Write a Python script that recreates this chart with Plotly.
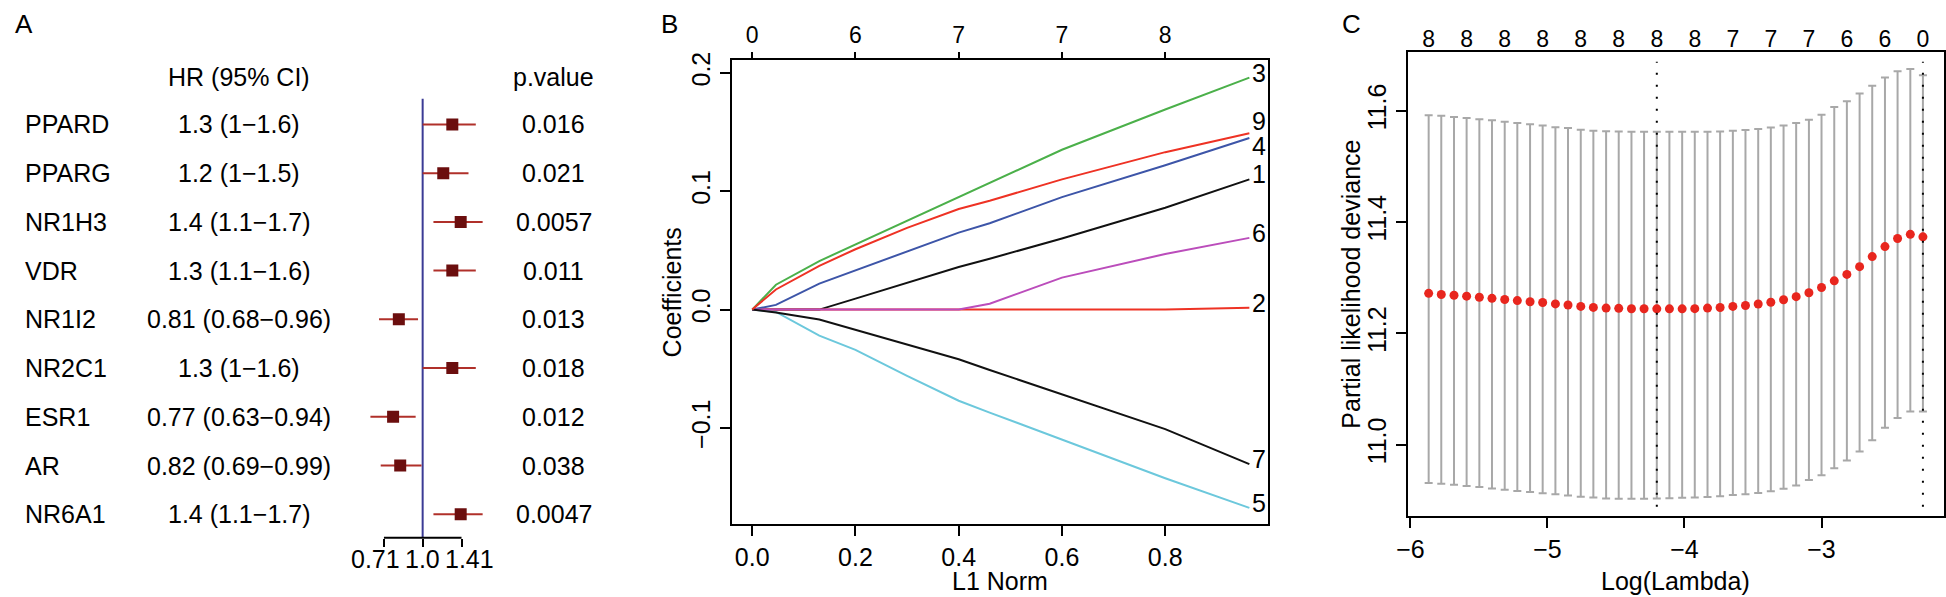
import math
import plotly.graph_objects as go

W, H = 1946, 597
FONT = "Arial, 'Liberation Sans', Helvetica, sans-serif"

# ---- Panel A: forest plot ----
genes = ["PPARD", "PPARG", "NR1H3", "VDR", "NR1I2", "NR2C1", "ESR1", "AR", "NR6A1"]
hr = [1.3, 1.2, 1.4, 1.3, 0.81, 1.3, 0.77, 0.82, 1.4]
hr_low = [1.0, 1.0, 1.1, 1.1, 0.68, 1.0, 0.63, 0.69, 1.1]
hr_high = [1.6, 1.5, 1.7, 1.6, 0.96, 1.6, 0.94, 0.99, 1.7]
p_values = [0.016, 0.021, 0.0057, 0.011, 0.013, 0.018, 0.012, 0.038, 0.0047]
hr_ticks = [0.71, 1.0, 1.41]
hr_tick_text = ["0.71", "1.0", "1.41"]

# ---- Panel B: coefficient paths ----
l1_norm = [0, 0.046, 0.13, 0.2, 0.3, 0.4, 0.46, 0.6, 0.8, 0.963]
coef1 = [0, 0, 0, 0.0093, 0.0227, 0.036, 0.043, 0.060, 0.086, 0.110]
coef2 = [0, 0, 0, 0, 0, 0, 0, 0, 0, 0.0016]
coef3 = [0, 0.021, 0.041, 0.055, 0.075, 0.095, 0.107, 0.135, 0.169, 0.196]
coef4 = [0, 0.004, 0.022, 0.033, 0.049, 0.065, 0.073, 0.095, 0.122, 0.145]
coef5 = [0, -0.002, -0.022, -0.034, -0.056, -0.077, -0.087, -0.110, -0.1425, -0.1675]
coef6 = [0, 0, 0, 0, 0, 0, 0.005, 0.027, 0.047, 0.0606]
coef7 = [0, -0.0025, -0.0083, -0.017, -0.0295, -0.042, -0.051, -0.0717, -0.101, -0.1305]
coef9 = [0, 0.017, 0.037, 0.051, 0.069, 0.085, 0.092, 0.110, 0.133, 0.149]
b_top_ticks = [0, 0.2, 0.4, 0.6, 0.8]
b_top_text = ["0", "6", "7", "7", "8"]

# ---- Panel C: cross-validation curve ----
log_lambda = [-5.867, -5.775, -5.682, -5.590, -5.497, -5.405, -5.312, -5.220, -5.127, -5.035,
              -4.942, -4.850, -4.757, -4.665, -4.572, -4.480, -4.387, -4.295, -4.202, -4.110,
              -4.017, -3.925, -3.832, -3.740, -3.647, -3.555, -3.462, -3.370, -3.277, -3.185,
              -3.092, -3.000, -2.907, -2.815, -2.722, -2.630, -2.537, -2.445, -2.352, -2.260]
cv_mean = [11.272, 11.270, 11.2685, 11.267, 11.265, 11.263, 11.261, 11.259, 11.257, 11.2555,
           11.253, 11.251, 11.2485, 11.2467, 11.2455, 11.245, 11.2443, 11.2443, 11.2442, 11.2442,
           11.2442, 11.2445, 11.2455, 11.2465, 11.2485, 11.2502, 11.2528, 11.256, 11.2605, 11.266,
           11.273, 11.2825, 11.2945, 11.306, 11.320, 11.338, 11.356, 11.3705, 11.378, 11.3735]
cv_upper = [11.592, 11.591, 11.589, 11.587, 11.585, 11.583, 11.5805, 11.578, 11.576, 11.5735,
            11.5705, 11.569, 11.566, 11.564, 11.5635, 11.563, 11.5622, 11.5622, 11.5622, 11.5622,
            11.5622, 11.5622, 11.5625, 11.563, 11.564, 11.5655, 11.5675, 11.570, 11.5735, 11.578,
            11.584, 11.593, 11.607, 11.617, 11.631, 11.645, 11.660, 11.671, 11.675, 11.664]
cv_lower = [10.931, 10.9297, 10.928, 10.9256, 10.924, 10.9214, 10.919, 10.9168, 10.915, 10.9126,
            10.9108, 10.9085, 10.9067, 10.905, 10.9035, 10.903, 10.9027, 10.9027, 10.9035, 10.904,
            10.9045, 10.905, 10.906, 10.9075, 10.9095, 10.911, 10.913, 10.9165, 10.921, 10.9265,
            10.9365, 10.945, 10.9575, 10.9717, 10.988, 11.008, 11.0306, 11.048, 11.0595, 11.0595]
nonzero_counts = ["8", "8", "8", "8", "8", "8", "8", "8", "7", "7", "7", "6", "6", "0"]
idx_min, idx_1se = 18, 39


def px_x(p):
    return p / W


def px_y(p):
    return 1 - p / H


fig = go.Figure()

# Panel A traces
rows = list(range(len(genes)))
fig.add_trace(go.Scatter(
    x=hr, y=rows, mode="markers", xaxis="x", yaxis="y",
    marker=dict(symbol="square", size=12, color="#6B0E0E"),
    error_x=dict(type="data", symmetric=False,
                 array=[u - h for u, h in zip(hr_high, hr)],
                 arrayminus=[h - l for h, l in zip(hr, hr_low)],
                 color="#B0302A", thickness=2, width=0),
    showlegend=False, hoverinfo="skip"))

# Panel B traces (drawn in variable order so later ones sit on top)
paths = [("1", coef1, "#111111"), ("2", coef2, "#EE3224"), ("3", coef3, "#4BB04A"),
         ("4", coef4, "#3D55A8"), ("5", coef5, "#6CC8DC"), ("6", coef6, "#BB4DBB"),
         ("7", coef7, "#111111"), ("9", coef9, "#EE3224")]
for name, vals, col in paths:
    fig.add_trace(go.Scatter(x=l1_norm, y=vals, mode="lines", xaxis="x2", yaxis="y2",
                             line=dict(color=col, width=2), showlegend=False, hoverinfo="skip"))
fig.add_trace(go.Scatter(x=l1_norm, y=coef3, mode="none", xaxis="x3", yaxis="y2",
                         showlegend=False, hoverinfo="skip"))

# Panel C traces
fig.add_trace(go.Scatter(
    x=log_lambda, y=cv_mean, mode="markers", xaxis="x4", yaxis="y4",
    marker=dict(size=9, color="#E8261E"),
    error_y=dict(type="data", symmetric=False,
                 array=[u - m for u, m in zip(cv_upper, cv_mean)],
                 arrayminus=[m - l for m, l in zip(cv_mean, cv_lower)],
                 color="#A8A8A8", thickness=2, width=4),
    showlegend=False, hoverinfo="skip"))
fig.add_trace(go.Scatter(x=log_lambda, y=cv_mean, mode="none", xaxis="x5", yaxis="y4",
                         showlegend=False, hoverinfo="skip"))

tick_font = dict(family=FONT, size=25, color="black")
box = dict(showline=True, mirror=True, linewidth=2, linecolor="black", showgrid=False,
           zeroline=False, ticks="outside", ticklen=10, tickwidth=2, tickcolor="black",
           tickfont=tick_font)

fig.update_layout(
    width=W, height=H, margin=dict(l=0, r=0, t=0, b=0),
    paper_bgcolor="white", plot_bgcolor="white",
    font=dict(family=FONT, color="black"),
    # forest axis: ticks only, the labels are placed below as text so the outer ones can sit apart
    xaxis=dict(domain=[px_x(300), px_x(500)], anchor="y", type="log",
               range=[-0.4354, 0.3285], tickvals=hr_ticks, showticklabels=False,
               ticks="outside", ticklen=8, tickwidth=2, tickcolor="black",
               showline=False, showgrid=False, zeroline=False),
    yaxis=dict(domain=[px_y(537), px_y(92)], anchor="x", range=[8.482, -0.526], visible=False),
    xaxis2=dict(domain=[px_x(725), px_x(1264)], anchor="y2", range=[-0.0393, 0.9988],
                tickvals=[0, 0.2, 0.4, 0.6, 0.8], tickformat=".1f", **box),
    yaxis2=dict(domain=[px_y(523), px_y(53)], anchor="x2", range=[-0.1811, 0.2106],
                tickvals=[-0.1, 0, 0.1, 0.2], tickformat=".1f", tickangle=-90, **box),
    xaxis3=dict(overlaying="x2", side="top", anchor="y2", range=[-0.0393, 0.9988],
                tickvals=b_top_ticks, ticktext=b_top_text, ticks="outside", ticklen=7,
                tickwidth=2, tickcolor="black", showline=False, showgrid=False, zeroline=False,
                tickfont=dict(family=FONT, size=23, color="black")),
    xaxis4=dict(domain=[px_x(1404.5), px_x(1943.6)], anchor="y4", range=[-6.021, -2.109],
                tickvals=[-6, -5, -4, -3], **box),
    yaxis4=dict(domain=[px_y(515), px_y(45)], anchor="x4", range=[10.8717, 11.705],
                tickvals=[11.0, 11.2, 11.4, 11.6], tickformat=".1f", tickangle=-90, **box),
    xaxis5=dict(overlaying="x4", side="top", anchor="y4", range=[-6.021, -2.109],
                tickvals=log_lambda[::3], ticktext=nonzero_counts, ticks="",
                showline=False, showgrid=False, zeroline=False,
                tickfont=dict(family=FONT, size=23, color="black")),
)

shapes = [
    # reference line at HR = 1
    dict(type="line", xref="x", yref="y domain", x0=1, x1=1, y0=0, y1=1,
         line=dict(color="#3B3B95", width=2), layer="below"),
    # forest axis line between outer ticks
    dict(type="line", xref="x", yref="y domain", x0=hr_ticks[0], x1=hr_ticks[-1], y0=0, y1=0,
         line=dict(color="black", width=2)),
    # lambda.min and lambda.1se
    dict(type="line", xref="x4", yref="y4 domain", x0=log_lambda[idx_min], x1=log_lambda[idx_min],
         y0=0.02, y1=0.98, line=dict(color="black", width=2, dash="2px,10px")),
    dict(type="line", xref="x4", yref="y4 domain", x0=log_lambda[idx_1se], x1=log_lambda[idx_1se],
         y0=0.02, y1=0.98, line=dict(color="black", width=2, dash="2px,10px")),
]
fig.update_layout(shapes=shapes)

ann = []


def text(x, y, s, size=25, xanchor="center", angle=0, xref="paper", yref="paper", **kw):
    ann.append(dict(x=x, y=y, text=s, xref=xref, yref=yref, showarrow=False,
                    xanchor=xanchor, yanchor="middle", textangle=angle,
                    font=dict(family=FONT, size=size, color="black"), **kw))


# panel letters
text(px_x(2), px_y(16), "A", size=26, xanchor="left")
text(px_x(652), px_y(16), "B", size=26, xanchor="left")
text(px_x(1337), px_y(16), "C", size=26, xanchor="left")

# forest table
text(px_x(229), px_y(70), "HR (95% CI)")
text(px_x(546), px_y(70), "p.value")
for i, g in enumerate(genes):
    text(px_x(12), i, g, xanchor="left", yref="y")
    text(px_x(229), i, f"{hr[i]:g} ({hr_low[i]:g}\u2212{hr_high[i]:g})", yref="y")
    text(px_x(546), i, f"{p_values[i]:g}", yref="y")

# forest tick labels (outer ones nudged outward); annotations on a log axis take log10 positions
for tv, tt, dx in zip(hr_ticks, hr_tick_text, [-8, 0, 8]):
    text(math.log10(tv), px_y(558), tt, xref="x", xshift=dx)

# panel B labels
text(px_x(665), px_y(288), "Coefficients", angle=-90)
text(px_x(994.5), px_y(581), "L1 Norm")
shift = {"9": 12, "4": -8}
for name, vals, col in paths:
    text(l1_norm[-1], vals[-1], name, size=25, xanchor="left", xref="x2", yref="y2",
         xshift=1, yshift=shift.get(name, 5))

# panel C labels
text(px_x(1348), px_y(280), "Partial likelihood deviance", angle=-90)
text(px_x(1674), px_y(581), "Log(Lambda)")

fig.update_layout(annotations=ann)
# drop the default page margin so the figure sits at the window's top-left corner
fig.write_html("out.html", config={"displayModeBar": False},
               post_script="document.body.style.margin='0';")
